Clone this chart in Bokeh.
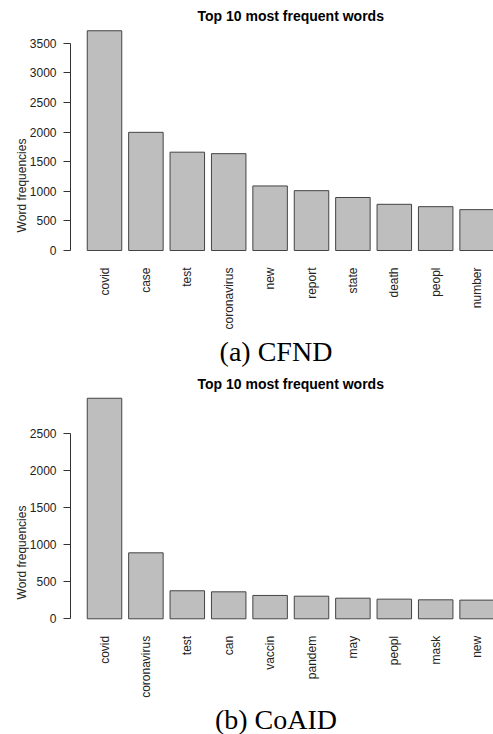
import numpy as np
from bokeh.plotting import figure
from bokeh.models import Range1d, FixedTicker, Label, ColumnDataSource
from bokeh.layouts import column
from bokeh.core.properties import value
from bokeh.embed import file_html
from bokeh.resources import INLINE

title_text = "Top 10 most frequent words"
ylabel_text = "Word frequencies"

cfnd_words = ["covid", "case", "test", "coronavirus", "new", "report", "state", "death", "peopl", "number"]
cfnd_freq = [3710, 1995, 1660, 1635, 1090, 1010, 895, 780, 740, 690]
cfnd_yticks = [0, 500, 1000, 1500, 2000, 2500, 3000, 3500]
cfnd_caption = "(a) CFND"

coaid_words = ["covid", "coronavirus", "test", "can", "vaccin", "pandem", "may", "peopl", "mask", "new"]
coaid_freq = [2975, 890, 378, 364, 315, 305, 278, 265, 256, 252]
coaid_yticks = [0, 500, 1000, 1500, 2000, 2500]
coaid_caption = "(b) CoAID"

SANS = "Liberation Sans"
SERIF = "Liberation Serif"
W = 493
LEFT = 70
PITCH = 41.4        # px between bar centres
FIRST = 34.0        # px from frame left to first bar centre
BARW = 34.5         # bar width in px
TEXT = "#222222"


def make_panel(words, freq, yticks, caption, height, zero_px, px_per_unit,
               title_y, caption_y):
    frame_w = W - LEFT
    xs = list(range(len(words)))
    x_start = -FIRST / PITCH
    x_end = x_start + frame_w / PITCH
    y_start = -(height - zero_px) / px_per_unit
    y_end = zero_px / px_per_unit
    p = figure(width=W, height=height, title=None,
               x_range=Range1d(x_start, x_end), y_range=Range1d(y_start, y_end),
               output_backend="svg", toolbar_location=None,
               min_border_left=LEFT, min_border_right=0,
               min_border_top=0, min_border_bottom=0)
    p.outline_line_color = None
    p.xgrid.visible = False
    p.ygrid.visible = False
    p.xaxis.visible = False
    p.background_fill_color = "white"
    p.border_fill_color = "white"

    src = ColumnDataSource(dict(x=xs, top=freq, word=words, base=[0] * len(xs)))
    p.vbar(x="x", top="top", bottom=0, width=BARW / PITCH, source=src,
           fill_color="#BEBEBE", line_color="#444444", line_width=1)
    # category names below the bars, rotated like R's las=2
    p.text(x="x", y="base", text="word", source=src, angle=np.pi / 2,
           text_align="right", text_baseline="middle", y_offset=17,
           text_font=value(SANS), text_font_size="12px", text_color=TEXT)

    ya = p.yaxis[0]
    ya.ticker = FixedTicker(ticks=yticks)
    ya.bounds = (min(yticks), max(yticks))
    ya.axis_line_color = "#333333"
    ya.major_tick_line_color = "#333333"
    ya.major_tick_out = 7
    ya.major_tick_in = 0
    ya.minor_tick_line_color = None
    ya.major_label_standoff = 7
    ya.major_label_text_font = SANS
    ya.major_label_text_font_size = "12px"
    ya.major_label_text_color = TEXT
    ya.axis_label = ylabel_text
    ya.axis_label_text_font = SANS
    ya.axis_label_text_font_size = "12px"
    ya.axis_label_text_font_style = "normal"
    ya.axis_label_text_color = TEXT
    ya.axis_label_standoff = -2

    p.add_layout(Label(x=290.2 - LEFT, y=height - title_y, x_units="screen", y_units="screen",
                       text=title_text, text_align="center", text_baseline="middle",
                       text_font=SANS, text_font_size="14px", text_font_style="bold",
                       text_color="black"))
    p.add_layout(Label(x=275.5 - LEFT, y=height - caption_y, x_units="screen", y_units="screen",
                       text=caption, text_align="center", text_baseline="middle",
                       text_font=SERIF, text_font_size="28px", text_color="black"))
    return p


p1 = make_panel(cfnd_words, cfnd_freq, cfnd_yticks, cfnd_caption, height=370,
                zero_px=250.0, px_per_unit=0.05923, title_y=15.7, caption_y=351.0)
p2 = make_panel(coaid_words, coaid_freq, coaid_yticks, coaid_caption, height=364,
                zero_px=248.3, px_per_unit=0.07413, title_y=13.3, caption_y=348.5)

layout = column(p1, p2)
open("out.html", "w").write(file_html(layout, INLINE))
